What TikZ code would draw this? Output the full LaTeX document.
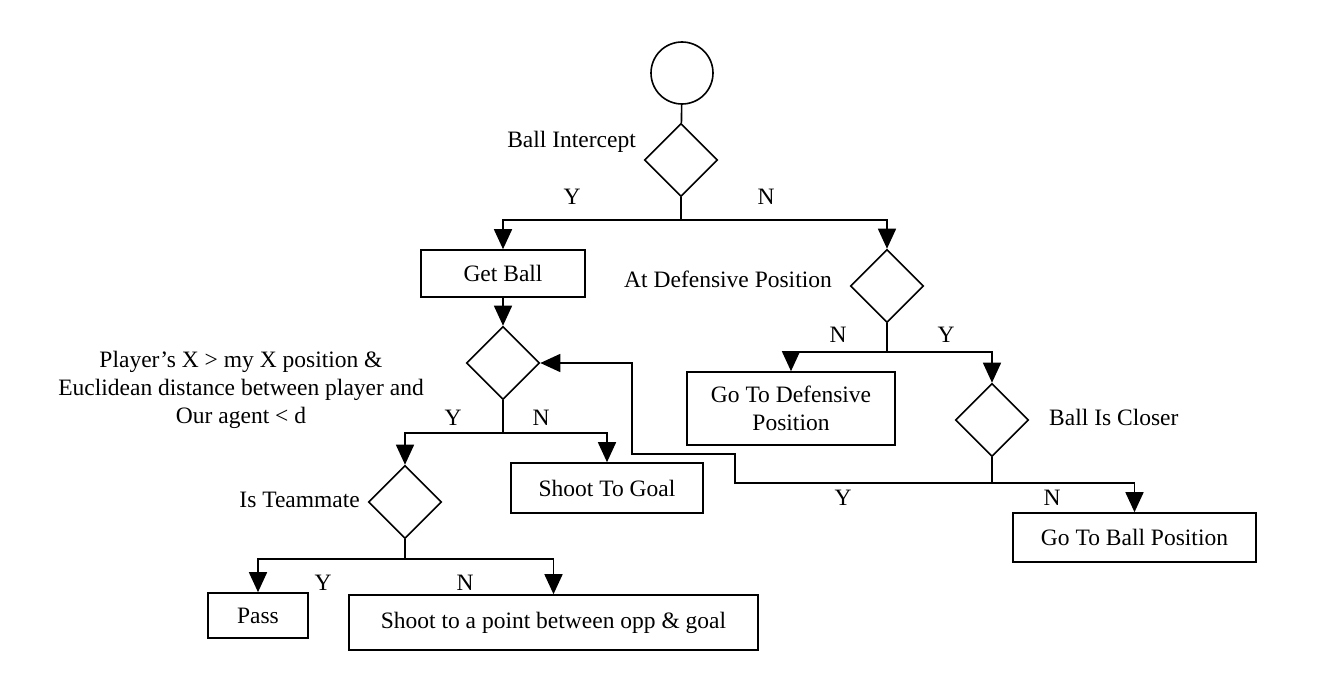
\documentclass[tikz,border=0pt]{standalone}
\usepackage{fontspec}
\setmainfont{Liberation Serif}
\usetikzlibrary{shapes.geometric,arrows.meta}
\begin{document}
\begin{tikzpicture}[x=1pt,y=-1pt,
  every node/.style={font=\fontsize{23.5}{28}\selectfont},
  dia/.style={draw,line width=1.6pt,shape=diamond,inner sep=0pt,minimum width=73pt,minimum height=73pt},
  box/.style={draw,line width=1.6pt,inner sep=0pt,align=center},
  lnk/.style={line width=1.6pt},
  arr/.style={line width=1.6pt,-{Triangle[length=20pt,width=18pt]}},
  lbl/.style={inner sep=0pt}]
\useasboundingbox (0,0) rectangle (1323,685);
\node[draw,line width=1.6pt,circle,minimum size=62pt,inner sep=0pt] (start) at (682,73) {};
\node[dia] (d1) at (681,160) {};
\node[box,minimum width=164pt,minimum height=47pt] (getball) at (503,273.5) {Get Ball};
\node[dia] (d2) at (887,286) {};
\node[dia] (d3) at (503,363) {};
\node[box,minimum width=208pt,minimum height=73pt] (gotodef) at (791,408.5) {Go To Defensive\\Position};
\node[dia] (d5) at (992,420) {};
\node[dia] (d4) at (405,502) {};
\node[box,minimum width=192pt,minimum height=50pt] (shootgoal) at (607,488) {Shoot To Goal};
\node[box,minimum width=100pt,minimum height=45pt] (pass) at (258,615.5) {Pass};
\node[box,minimum width=409pt,minimum height=55pt] (bigbox) at (553.5,622.5) {Shoot to a point between opp \& goal};
\node[box,minimum width=243pt,minimum height=49pt] (gotoball) at (1134.5,537.5) {Go To Ball Position};

\node[lbl,anchor=east] (t1) at (636,142) {Ball Intercept};
\node[lbl,anchor=east] (t2) at (832,279) {At Defensive Position};
\node[lbl,anchor=west] (t3) at (1049,417) {Ball Is Closer};
\node[lbl,anchor=east] (t4) at (360,500) {Is Teammate};
\node[lbl,align=center] (t5) at (241,390) {Player's X > my X position \&\\Euclidean distance between player and\\Our agent < d};

\node[lbl] (y1) at (572,197) {Y};
\node[lbl] (n1) at (766,197) {N};
\node[lbl] (n2) at (838,335) {N};
\node[lbl] (y2) at (946,335) {Y};
\node[lbl] (y3) at (453,418) {Y};
\node[lbl] (n3) at (541,418) {N};
\node[lbl] (y4) at (323,583) {Y};
\node[lbl] (n4) at (465,583) {N};
\node[lbl] (y5) at (843,498) {Y};
\node[lbl] (n5) at (1052,498) {N};

\coordinate (j1) at (681,220);
\coordinate (j2) at (887,352);
\coordinate (j3) at (503,433);
\coordinate (j4) at (405,559);
\coordinate (j5) at (992,483);

\draw[lnk] (start) -- (d1);
\draw[lnk] (d1.south) -- (j1);
\draw[arr] (j1) -| (getball.north);
\draw[arr] (j1) -| (d2.north);
\draw[arr] (getball) -- (d3.north);
\draw[lnk] (d2.south) -- (j2);
\draw[arr] (j2) -| (gotodef.north);
\draw[arr] (j2) -| (d5.north);
\draw[lnk] (d3.south) -- (j3);
\draw[arr] (j3) -| (d4.north);
\draw[arr] (j3) -| (shootgoal.north);
\draw[lnk] (d4.south) -- (j4);
\draw[arr] (j4) -| (pass.north);
\draw[arr] (j4) -| (bigbox.north);
\draw[lnk] (d5.south) -- (j5);
\draw[arr] (j5) -| (gotoball.north);
\draw[arr] (j5) -- (735,483) -- (735,454) -- (632,454) -- (632,363) -- (d3.east);
\end{tikzpicture}
\end{document}
